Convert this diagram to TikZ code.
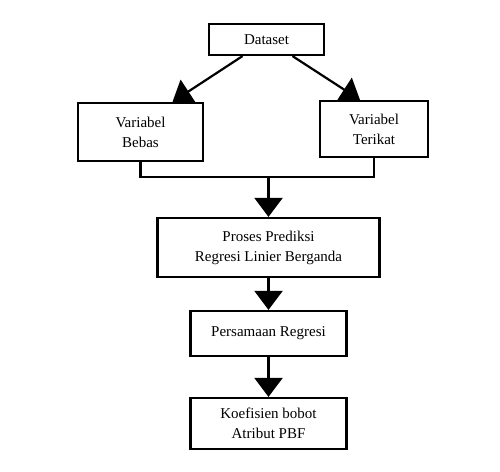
\documentclass[tikz,border=0pt]{standalone}
\usepackage{fontspec}
\setmainfont{Liberation Serif}
\usepackage{tikz}
\usetikzlibrary{
    positioning,
    arrows.meta
}

\begin{document}
\begin{tikzpicture}[x=1pt, y=-1pt,
        box/.style={draw, line width=2.2pt, align=center, inner sep=0pt,
            font=\fontsize{15}{20}\selectfont},
        arr/.style={line width=2.2pt, -{Triangle[width=28pt, length=19pt]}}]
            \useasboundingbox (0,0) rectangle (500,471);

            \node[box, minimum width=115pt, minimum height=31pt] (data) at (266.5,39.5) {Dataset};
            \node[box, minimum width=125pt, minimum height=58pt] (bebas) at (140.5,132) {Variabel\\Bebas};
            \node[box, minimum width=108pt, minimum height=56pt] (terikat) at (374,129) {Variabel\\Terikat};
            \node[box, minimum width=222pt, minimum height=59pt] (proses) at (268.5,247.5) {Proses Prediksi\\Regresi Linier Berganda};
            \node[box, minimum width=156pt, minimum height=45pt] (persamaan) at (268.5,333.5) {Persamaan Regresi};
            \node[box, minimum width=156pt, minimum height=51pt] (koefisien) at (268.5,423.5) {Koefisien bobot\\Atribut PBF};

            \coordinate (join) at (268.5,177);

            \draw[arr] ([xshift=-24pt]data.south) -- ([xshift=32pt]bebas.north);
            \draw[arr] ([xshift=26pt]data.south) -- ([xshift=-14pt]terikat.north);
            \draw[line width=2.2pt] (bebas.south) |- (join) -| (terikat.south);
            \draw[arr] (join) -- (proses.north);
            \draw[arr] (proses) -- (persamaan);
            \draw[arr] (persamaan) -- (koefisien);
        \end{tikzpicture}
\end{document}
